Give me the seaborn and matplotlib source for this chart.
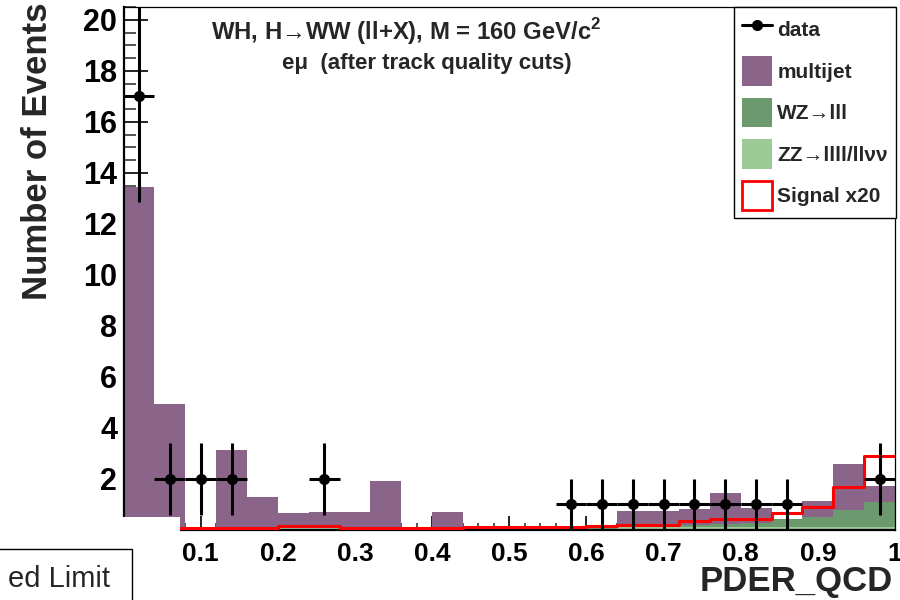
import numpy as np
import pandas as pd
import matplotlib
matplotlib.use("Agg")
import matplotlib.pyplot as plt
from matplotlib.lines import Line2D
from matplotlib.patches import Patch, Rectangle
from matplotlib.ticker import MultipleLocator, FixedLocator
import seaborn as sns

# ---- binned PDER_QCD distribution, 25 bins of width 0.04 on [0, 1] ----
bin_lo, bin_hi, n_bins = 0.0, 1.0, 25

multijet = [13.40, 4.90, 0.00, 3.10, 1.24, 0.54, 0.58, 0.65, 1.87, 0.00,
            0.65, 0.00, 0.00, 0.00, 0.00, 0.00, 0.62, 0.61, 0.62, 1.21,
            0.60, 0.00, 0.61, 1.80, 0.61]
wz = [0.02, 0.01, 0.01, 0.01, 0.02, 0.02, 0.02, 0.02, 0.02, 0.01,
      0.02, 0.02, 0.02, 0.02, 0.03, 0.03, 0.03, 0.04, 0.08, 0.12,
      0.16, 0.30, 0.40, 0.65, 0.98]
zz = [0.03, 0.03, 0.03, 0.03, 0.03, 0.12, 0.12, 0.03, 0.03, 0.02,
      0.03, 0.03, 0.03, 0.03, 0.04, 0.05, 0.10, 0.10, 0.12, 0.12,
      0.12, 0.12, 0.12, 0.13, 0.13]
signal_x20 = [0.05, 0.06, 0.07, 0.08, 0.08, 0.16, 0.16, 0.06, 0.06, 0.06,
              0.06, 0.12, 0.10, 0.10, 0.13, 0.15, 0.20, 0.20, 0.36, 0.43,
              0.43, 0.68, 0.89, 1.70, 2.90]
data_counts = [17, 2, 2, 2, 0, 0, 2, 0, 0, 0,
               0, 0, 0, 0, 1, 1, 1, 1, 1, 1,
               1, 1, 0, 0, 2]

process_names = ["multijet", "WZ\u2192lll", "ZZ\u2192llll/ll\u03bd\u03bd"]
process_colors = ["#8a6589", "#6c9a6e", "#9ccb98"]
y_ticks = [2, 4, 6, 8, 10, 12, 14, 16, 18, 20]
x_ticks = [0.1, 0.2, 0.3, 0.4, 0.5, 0.6, 0.7, 0.8, 0.9, 1.0]
x_tick_labels = ["0.1", "0.2", "0.3", "0.4", "0.5", "0.6", "0.7", "0.8", "0.9", "1"]

edges = np.linspace(bin_lo, bin_hi, n_bins + 1)
bin_edges = [float(e) for e in edges]
centers = 0.5 * (edges[:-1] + edges[1:])
half_width = 0.5 * (edges[1] - edges[0])

bkg = pd.DataFrame({
    "x": np.concatenate([centers] * 3),
    "w": np.concatenate([multijet, wz, zz]),
    "process": np.repeat(process_names, n_bins),
})

sns.set_style("white")
plt.rcParams["font.family"] = ["Liberation Sans", "DejaVu Sans"]
plt.rcParams["font.weight"] = "bold"
plt.rcParams["mathtext.fontset"] = "custom"
plt.rcParams["mathtext.rm"] = "Liberation Sans"
plt.rcParams["mathtext.bf"] = "Liberation Sans:bold"

fig = plt.figure(figsize=(9, 6), dpi=100)
fig.patch.set_facecolor("white")
W, H = 900.0, 600.0
ax = fig.add_axes([123.6 / W, 1 - 530 / H, (895 - 123.6) / W, (530 - 6.7) / H])
ax.set_facecolor("white")

# stacked backgrounds
sns.histplot(data=bkg, x="x", weights="w", hue="process", hue_order=process_names,
             palette=process_colors, bins=bin_edges, multiple="stack", element="bars",
             fill=True, alpha=1, linewidth=0, legend=False, ax=ax)

# signal (scaled by 20) as a step outline
sns.histplot(x=centers, weights=signal_x20, bins=bin_edges, element="step", fill=False,
             color="#ff0000", linewidth=2.2, ax=ax, zorder=3)

# observed data with sqrt(N) errors
counts = np.array(data_counts, dtype=float)
sel = counts > 0
ax.errorbar(centers[sel], counts[sel], xerr=half_width, yerr=np.sqrt(counts[sel]),
            fmt="o", color="black", markersize=7, elinewidth=2.2, capsize=0, zorder=5)

ax.set_xlim(bin_lo, bin_hi)
ax.set_ylim(0, 20.52)
ax.set_xlabel("")
ax.set_ylabel("")

ax.xaxis.set_major_locator(FixedLocator(x_ticks))
ax.set_xticklabels(x_tick_labels)
ax.xaxis.set_minor_locator(MultipleLocator(0.02))
ax.yaxis.set_major_locator(FixedLocator(y_ticks))
ax.yaxis.set_minor_locator(MultipleLocator(0.5))
ax.tick_params(axis="x", which="major", direction="in", length=10, width=1.2,
               pad=8.5, labelsize=19, colors="black")
ax.tick_params(axis="x", which="minor", direction="in", length=5, width=1.1)
ax.tick_params(axis="y", which="major", direction="in", length=17, width=1.2,
               pad=4.5, labelsize=22, colors="black")
ax.tick_params(axis="y", which="minor", direction="in", length=8.6, width=1.1)
ax.tick_params(top=False, right=False, bottom=True, left=True, which="both")
for lab in ax.get_xticklabels() + ax.get_yticklabels():
    lab.set_fontweight("bold")

for side in ["left", "bottom"]:
    ax.spines[side].set_linewidth(1.6)
    ax.spines[side].set_color("black")
for side in ["top", "right"]:
    ax.spines[side].set_linewidth(0.9)
    ax.spines[side].set_color("black")

# channel description
ax.text(406 / W, 1 - 32 / H,
        "WH, H\u2192WW (ll+X), M = 160 GeV/c$^{\\mathbf{2}}$",
        transform=fig.transFigure, ha="center", va="center", fontsize=17.2,
        fontweight="bold")
ax.text(427 / W, 1 - 63 / H, "e\u03bc  (after track quality cuts)",
        transform=fig.transFigure, ha="center", va="center", fontsize=16,
        fontweight="bold")

# legend
handles = [
    Line2D([0], [0], color="black", marker="o", markersize=7, linewidth=2.2),
    Patch(facecolor=process_colors[0], edgecolor="none"),
    Patch(facecolor=process_colors[1], edgecolor="none"),
    Patch(facecolor=process_colors[2], edgecolor="none"),
    Patch(facecolor="white", edgecolor="#ff0000", linewidth=2),
]
labels = ["data"] + process_names + ["Signal x20"]
leg = ax.legend(handles, labels, loc="upper right",
                bbox_to_anchor=(895.5 / W, 1 - 7 / H), bbox_transform=fig.transFigure,
                borderaxespad=0, fancybox=False, framealpha=1, edgecolor="black",
                prop={"size": 15, "weight": "bold"}, handlelength=1.45,
                handleheight=1.8, handletextpad=0.25, labelspacing=0.58,
                borderpad=0.36)
leg.get_frame().set_linewidth(1.0)

# axis titles
fig.text(38 / W, 1 - 3 / H, "Number of Events", rotation=90, ha="center", va="top",
         fontsize=25, fontweight="bold")
fig.text(893 / W, 1 - 591 / H, "PDER_QCD", ha="right", va="baseline",
         fontsize=25, fontweight="bold")

# blank lower-left corner with the neighbouring limit box
fig.add_artist(Rectangle((0, 0), 180 / W, (600 - 517) / H, transform=fig.transFigure,
                         facecolor="white", edgecolor="none", zorder=10))
fig.add_artist(Rectangle((-5 / W, -5 / H), 137 / W, (600 - 549 + 5) / H,
                         transform=fig.transFigure, facecolor="white",
                         edgecolor="black", linewidth=1.0, zorder=11))
fig.text(110 / W, 1 - 587 / H, "ed Limit", ha="right", va="baseline", fontsize=21,
         fontweight="normal", zorder=12)

fig.savefig("out.png", dpi=100, facecolor="white")
